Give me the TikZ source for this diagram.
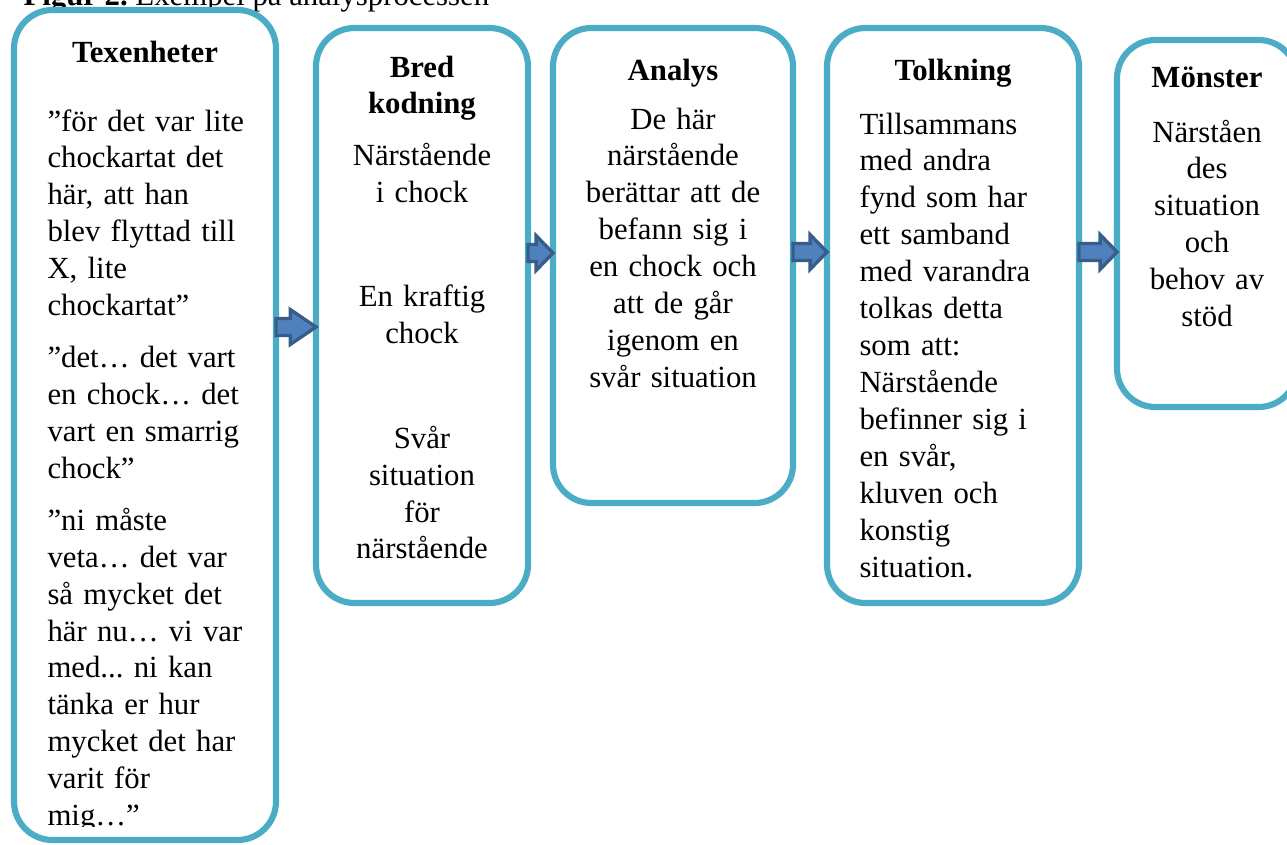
\documentclass[tikz,border=0pt]{standalone}
\usepackage{fontspec}
\setmainfont{Liberation Serif}
\usetikzlibrary{calc}
\definecolor{boxblue}{HTML}{4BACC6}
\definecolor{arrowfill}{HTML}{4F81BD}
\definecolor{arrowdark}{HTML}{385D8A}

\begin{document}
\frenchspacing
\begin{tikzpicture}[x=0.39pt,y=-0.39pt,
  font={\fontsize{12pt}{14.4pt}\selectfont},
  box/.style={draw=boxblue,line width=2.4pt,rounded corners=15pt,fill=white,outer sep=0pt,inner sep=0pt},
  head/.style={font={\fontsize{12pt}{14.4pt}\selectfont\bfseries},anchor=base,inner sep=0pt},
  body/.style={text width=86pt,inner sep=0pt,anchor=base west,align=left},
  cbody/.style={text width=88pt,inner sep=0pt,anchor=base,align=center},
  flowarrow/.style={draw=arrowdark,fill=arrowfill,line width=1.3pt,line join=miter,
    to path={let \p1=(\tikztostart),\p2=(\tikztotarget) in
      (\x1,\y1+3.3pt) -- (\x2-#1,\y1+3.3pt) -- (\x2-#1,\y1+6.8pt) -- (\x2,\y1)
      -- (\x2-#1,\y1-6.8pt) -- (\x2-#1,\y1-3.3pt) -- (\x1,\y1-3.3pt) -- cycle}}]
\useasboundingbox (0,0) rectangle (1287,844);

\node[anchor=base west,inner sep=0pt] (titel) at (23,5) {\textbf{Figur 2.} Exempel på analysprocessen};

\node[box,minimum width=262*0.39pt,minimum height=830*0.39pt] (texenheter) at (145,425) {};
\node[box,minimum width=212*0.39pt,minimum height=575*0.39pt] (kodning) at (422,315.5) {};
\node[box,minimum width=240*0.39pt,minimum height=475*0.39pt] (analys) at (673,265.5) {};
\node[box,minimum width=252*0.39pt,minimum height=575*0.39pt] (tolkning) at (953,315.5) {};
\node[box,minimum width=180*0.39pt,minimum height=367*0.39pt] (monster) at (1207,223.5) {};

\node[head] (texenheter-rubrik) at (145,62) {Texenheter};
\begin{scope}
\clip (0,0) rectangle (1287,826);
\node[body] (texenheter-text) at (47,131) {”för det var lite\\chockartat det\\här, att han\\blev flyttad till\\X, lite\\chockartat”\\[5.85pt]”det… det vart\\en chock… det\\vart en smarrig\\chock”\\[5.85pt]”ni måste\\veta… det var\\så mycket det\\här nu… vi var\\med... ni kan\\tänka er hur\\mycket det har\\varit för\\mig…”};
\end{scope}

\node[cbody,text width=78pt] (kodning-text) at (422,77) {\textbf{Bred}\\\textbf{kodning}\\[5.85pt]Närstående\\i chock\\[26pt]En kraftig\\chock\\[26.5pt]Svår\\situation\\för\\närstående};

\node[head] (analys-rubrik) at (673,80) {Analys};
\node[cbody] (analys-text) at (673,129) {De här\\närstående\\berättar att de\\befann sig i\\en chock och\\att de går\\igenom en\\svår situation};

\node[head] (tolkning-rubrik) at (953,80) {Tolkning};
\node[body] (tolkning-text) at (859,134) {Tillsammans\\med andra\\fynd som har\\ett samband\\med varandra\\tolkas detta\\som att:\\Närstående\\befinner sig i\\en svår,\\kluven och\\konstig\\situation.};

\node[head] (monster-rubrik) at (1207,87) {Mönster};
\node[cbody,text width=68pt] (monster-text) at (1207,142) {Närståen\\des\\situation\\och\\behov av\\stöd};

\draw[flowarrow=10pt] (texenheter.east |- 0,327) to (kodning.west |- 0,327);
\draw[flowarrow=6.6pt] (kodning.east |- 0,253) to (analys.west |- 0,253);
\draw[flowarrow=6.6pt] (analys.east |- 0,252) to (tolkning.west |- 0,252);
\draw[flowarrow=6.6pt] (tolkning.east |- 0,252) to (monster.west |- 0,252);
\end{tikzpicture}
\end{document}
